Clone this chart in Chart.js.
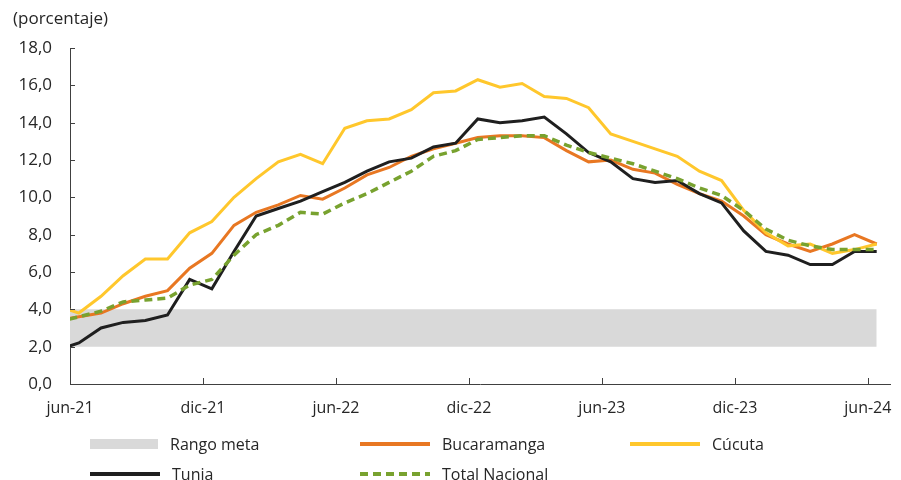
<!DOCTYPE html>
<html lang="es">
<head>
<meta charset="utf-8">
<script src="https://cdn.jsdelivr.net/npm/chart.js@4.4.1/dist/chart.umd.min.js"></script>
<style>
  body { margin: 0; background: #fff; }
  .grafico { position: relative; width: 901px; height: 480px; font-family: 'Open Sans', sans-serif; color: #262626; }
  .grafico canvas { position: absolute; left: 0; top: 0; }
  .grafico__unidad { position: absolute; left: 13px; top: 6px; font-size: 17px; }
  .leyenda { position: absolute; left: 90px; top: 432px; display: grid; grid-template-columns: 270px 270px 270px; row-gap: 6px; }
  .leyenda__item { display: flex; align-items: center; height: 24px; font-size: 16px; }
  .leyenda__item svg { margin-right: 12px; }
</style>
</head>
<body>
<div class="grafico">
  <canvas id="inflacion" width="901" height="480"></canvas>
  <div class="grafico__unidad">(porcentaje)</div>
  <div class="leyenda" id="leyenda"></div>
</div>
<script>
// inflación anual por ciudad, may-21 a jun-24
const meses = [
  'may-21', 'jun-21', 'jul-21', 'ago-21', 'sep-21', 'oct-21', 'nov-21', 'dic-21',
  'ene-22', 'feb-22', 'mar-22', 'abr-22', 'may-22', 'jun-22', 'jul-22', 'ago-22', 'sep-22', 'oct-22', 'nov-22', 'dic-22',
  'ene-23', 'feb-23', 'mar-23', 'abr-23', 'may-23', 'jun-23', 'jul-23', 'ago-23', 'sep-23', 'oct-23', 'nov-23', 'dic-23',
  'ene-24', 'feb-24', 'mar-24', 'abr-24', 'may-24', 'jun-24',
];
const bucaramanga = [3.4, 3.6, 3.8, 4.3, 4.7, 5.0, 6.2, 7.0, 8.5, 9.2, 9.6, 10.1, 9.9, 10.5, 11.2, 11.6, 12.2, 12.6, 12.9, 13.2,
  13.3, 13.3, 13.2, 12.5, 11.9, 12.0, 11.5, 11.3, 10.7, 10.2, 9.8, 9.0, 8.0, 7.5, 7.1, 7.5, 8.0, 7.5];
const cucuta = [4.2, 3.8, 4.7, 5.8, 6.7, 6.7, 8.1, 8.7, 10.0, 11.0, 11.9, 12.3, 11.8, 13.7, 14.1, 14.2, 14.7, 15.6, 15.7, 16.3,
  15.9, 16.1, 15.4, 15.3, 14.8, 13.4, 13.0, 12.6, 12.2, 11.4, 10.9, 9.3, 8.1, 7.4, 7.5, 7.0, 7.2, 7.5];
const tunja = [1.8, 2.2, 3.0, 3.3, 3.4, 3.7, 5.6, 5.1, 7.1, 9.0, 9.4, 9.8, 10.3, 10.8, 11.4, 11.9, 12.1, 12.7, 12.9, 14.2,
  14.0, 14.1, 14.3, 13.4, 12.4, 11.9, 11.0, 10.8, 10.9, 10.2, 9.7, 8.2, 7.1, 6.9, 6.4, 6.4, 7.1, 7.1];
const totalNacional = [3.3, 3.6, 3.9, 4.4, 4.5, 4.6, 5.3, 5.6, 6.9, 8.0, 8.5, 9.2, 9.1, 9.7, 10.2, 10.8, 11.4, 12.2, 12.5, 13.1,
  13.2, 13.3, 13.3, 12.8, 12.4, 12.1, 11.8, 11.4, 11.0, 10.5, 10.1, 9.3, 8.3, 7.7, 7.4, 7.2, 7.2, 7.2];
const rangoMeta = [2, 4];
const etiquetasEje = ['jun-21', 'dic-21', 'jun-22', 'dic-22', 'jun-23', 'dic-23', 'jun-24'];

// el eje cuenta meses desde jun-21; cada dato cae hacia mitad de mes
const inicio = meses.indexOf('jun-21');
const puntos = serie => serie.map((v, i) => ({ x: i - inicio + 0.4, y: v }));

const fuente = "'Open Sans', sans-serif";

// marcas cortas hacia dentro del área del gráfico
const marcasEje = {
  id: 'marcasEje',
  afterDraw(chart) {
    const { ctx, chartArea, scales } = chart;
    ctx.save();
    ctx.strokeStyle = '#404040';
    ctx.lineWidth = 1;
    ctx.beginPath();
    scales.y.ticks.forEach(t => {
      const y = Math.round(scales.y.getPixelForValue(t.value)) + 0.5;
      ctx.moveTo(chartArea.left, y);
      ctx.lineTo(chartArea.left + 5, y);
    });
    scales.x.ticks.forEach(t => {
      const x = Math.round(scales.x.getPixelForValue(t.value)) + 0.5;
      ctx.moveTo(x, chartArea.bottom);
      ctx.lineTo(x, chartArea.bottom - 6);
    });
    ctx.stroke();
    ctx.restore();
  },
};

const linea = (label, serie, color, orden, extra = {}) => ({
  label,
  data: puntos(serie),
  borderColor: color,
  backgroundColor: color,
  borderWidth: 3,
  pointRadius: 0,
  tension: 0,
  order: orden,
  ...extra,
});

const chart = new Chart(document.getElementById('inflacion'), {
  type: 'line',
  data: {
    datasets: [
      {
        label: 'Rango meta',
        data: puntos(meses.map(() => rangoMeta[1])),
        borderWidth: 0,
        pointRadius: 0,
        backgroundColor: '#d9d9d9',
        fill: { value: rangoMeta[0] },
        order: 10,
      },
      linea('Bucaramanga', bucaramanga, '#e87722', 4),
      linea('Cúcuta', cucuta, '#ffc72c', 3),
      linea('Tunja', tunja, '#1f1f1f', 2),
      linea('Total Nacional', totalNacional, '#78a22f', 1, { borderDash: [8, 5], borderWidth: 3.5 }),
    ],
  },
  options: {
    responsive: false,
    animation: false,
    layout: { padding: { top: 48, left: 12, right: 11, bottom: 60 } },
    plugins: {
      legend: { display: false },
      tooltip: { enabled: false },
    },
    scales: {
      x: {
        type: 'linear',
        min: 0,
        max: 37,
        grid: { display: false, drawTicks: false },
        border: { display: true, color: '#404040', width: 1 },
        ticks: {
          stepSize: 6,
          includeBounds: false,
          padding: 15,
          color: '#262626',
          font: { family: fuente, size: 16 },
          callback: v => etiquetasEje[v / 6],
        },
        afterFit: scale => {
          scale.height = 36;
          scale.paddingLeft = 0;
          scale.paddingRight = 0;
        },
      },
      y: {
        min: 0,
        max: 18,
        grid: { display: false, drawTicks: false },
        border: { display: true, color: '#404040', width: 1 },
        ticks: {
          stepSize: 2,
          padding: 18,
          color: '#262626',
          font: { family: fuente, size: 17 },
          callback: v => v.toFixed(1).replace('.', ','),
        },
        afterFit: scale => { scale.width = 58; },
      },
    },
  },
  plugins: [marcasEje],
});

// leyenda en dos filas de tres columnas
const leyenda = document.getElementById('leyenda');
chart.data.datasets.forEach(ds => {
  const item = document.createElement('div');
  item.className = 'leyenda__item';
  let muestra;
  if (ds.fill) {
    muestra = `<svg width="68" height="14"><rect x="0" y="2" width="68" height="10" fill="${ds.backgroundColor}"/></svg>`;
  } else {
    const guion = ds.borderDash ? `stroke-dasharray="${ds.borderDash.join(' ')}"` : '';
    muestra = `<svg width="70" height="14"><line x1="0" y1="7" x2="70" y2="7" stroke="${ds.borderColor}" stroke-width="4" ${guion}/></svg>`;
  }
  item.innerHTML = `${muestra}<span>${ds.label}</span>`;
  leyenda.appendChild(item);
});
</script>
</body>
</html>
